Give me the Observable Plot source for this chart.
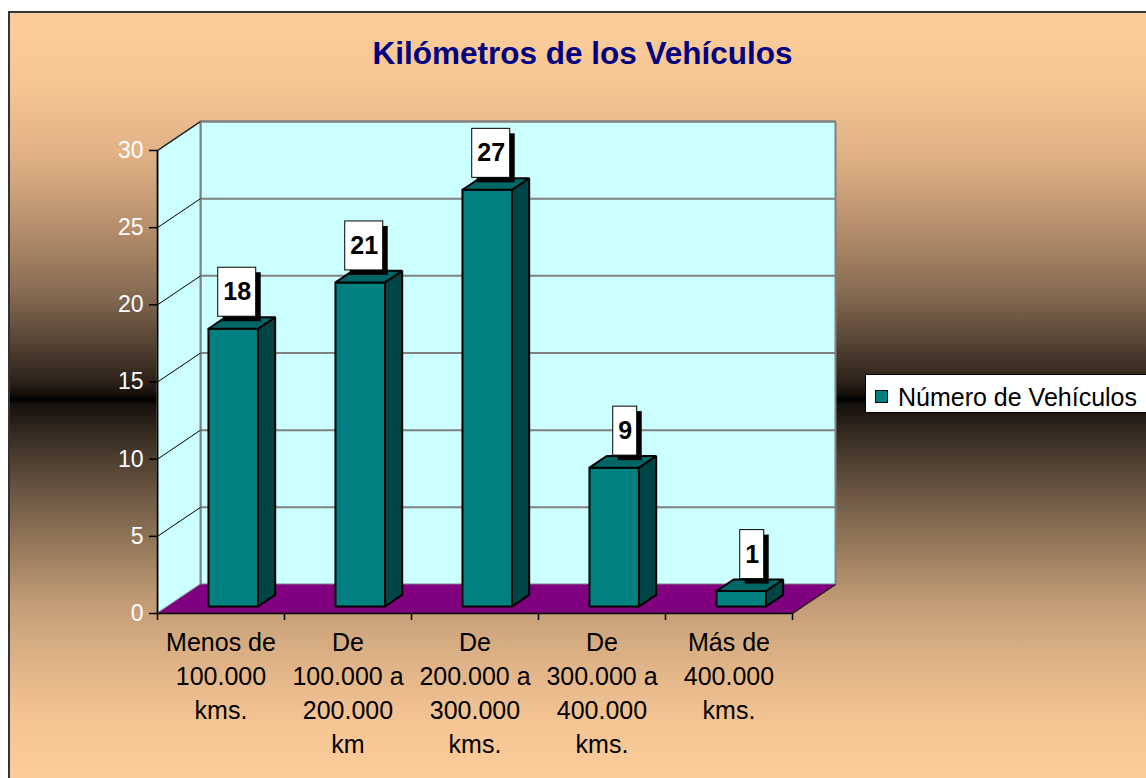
<!DOCTYPE html>
<html><head><meta charset="utf-8">
<script src="https://cdn.jsdelivr.net/npm/d3@7"></script>
<script src="https://cdn.jsdelivr.net/npm/@observablehq/plot@0.6"></script>
<style>
html,body{margin:0;padding:0;background:#fff;overflow:hidden;width:1146px;height:778px;}
#wrap{position:relative;width:1146px;height:778px;overflow:hidden;font-family:"Liberation Sans",Arial,sans-serif;}
#bg{position:absolute;left:8px;top:11px;width:1160px;height:790px;box-sizing:border-box;border-left:2px solid #333;border-top:2px solid #333;
background:linear-gradient(to bottom,#FCCC99 0px,#F6C694 69px,#DDAF83 149px,#B38C69 219px,#876C53 279px,#564434 329px,#2C2119 369px,#140f0b 381px,#000 386px,#16110d 392px,#3e3226 429px,#6a5642 479px,#937759 529px,#C29B75 589px,#DFB387 649px,#F4C493 709px,#FCCC99 767px,#FCCC99 790px);}
#chart{position:absolute;left:0;top:0;}
#title{position:absolute;left:0;width:1165px;top:38px;text-align:center;font-size:31.5px;line-height:31.5px;font-weight:bold;color:#000080;white-space:nowrap;}
#legend{position:absolute;left:865px;top:374px;width:300px;height:39px;background:#fff;border:1px solid #000;box-sizing:border-box;}
#legend .sw{position:absolute;left:9px;top:15px;width:11px;height:11px;background:#008080;border:1px solid #000;}
#legend .lt{position:absolute;left:32px;top:10px;font-size:25px;line-height:25px;color:#000;white-space:nowrap;}
</style></head>
<body>
<div id="wrap">
  <div id="bg"></div>
  <div id="chart"></div>
  <div id="title"></div>
  <div id="legend"><div class="sw"></div><div class="lt"></div></div>
</div>
<script>
// ---- data ----
const title = "Kilómetros de los Vehículos";
const seriesName = "Número de Vehículos";
const categories = [
  "Menos de\n100.000\nkms.",
  "De\n100.000 a\n200.000\nkm",
  "De\n200.000 a\n300.000\nkms.",
  "De\n300.000 a\n400.000\nkms.",
  "Más de\n400.000\nkms."
];
const values = [18, 21, 27, 9, 1];
const yTicks = [0, 5, 10, 15, 20, 25, 30];

document.getElementById("title").textContent = title;
document.querySelector("#legend .lt").textContent = seriesName;

// ---- layout ----
const W = 1146, H = 778;
const mL = 157, mR = 354, mT = 150, mB = 165;
const n = categories.length;
const yMax = yTicks[yTicks.length - 1];
const kx = (W - mL - mR) / n;        // px per band
const ky = (H - mT - mB) / yMax;     // px per unit
const DX = 43 / kx, DY = 29 / ky;    // depth of the 3D box in data units
const d0 = 0.24, d1 = 0.64;          // bar depth (fraction of floor depth)
const b0 = 0.32, b1 = 0.71;          // bar extent within band
const pt = (x, y, d, id) => ({x: x + d * DX, y: y + d * DY, id});
const poly = (id, pts) => [...pts, pts[0]].map(p => ({...p, id}));

const backWall = poly("back", [pt(0,0,1), pt(n,0,1), pt(n,yMax,1), pt(0,yMax,1)]);
const leftWall = poly("left", [pt(0,0,0), pt(0,0,1), pt(0,yMax,1), pt(0,yMax,0)]);
const floor = poly("floor", [pt(0,0,0), pt(n,0,0), pt(n,0,1), pt(0,0,1)]);
const gridVals = yTicks.filter(v => v > 0);
const backGrid = gridVals.map(v => ({a: pt(0,v,1), b: pt(n,v,1)}));
const sideGrid = gridVals.map(v => ({a: pt(0,v,0), b: pt(0,v,1)}));

const fronts = [], sides = [], tops = [];
values.forEach((v, i) => {
  const x0 = i + b0, x1 = i + b1;
  fronts.push(...poly("f" + i, [pt(x0,0,d0), pt(x1,0,d0), pt(x1,v,d0), pt(x0,v,d0)]));
  sides.push(...poly("s" + i, [pt(x1,0,d0), pt(x1,0,d1), pt(x1,v,d1), pt(x1,v,d0)]));
  tops.push(...poly("t" + i, [pt(x0,v,d0), pt(x1,v,d0), pt(x1,v,d1), pt(x0,v,d1)]));
});

const labels = values.map((v, i) => {
  const s = String(v);
  const w = s.length > 1 ? 38 : 24;
  const ax = i + (b0 + b1) / 2 + d0 * DX;
  const ay = v + d0 * DY;
  const xc = ax + (23 - w / 2) / kx;
  const y1 = ay + 12 / ky, y2 = y1 + 49 / ky;
  return {s, x1: xc - w / 2 / kx, x2: xc + w / 2 / kx, y1, y2, xc, yc: (y1 + y2) / 2};
});

const chart = Plot.plot({
  width: W, height: H,
  marginLeft: mL, marginRight: mR, marginTop: mT, marginBottom: mB,
  x: {domain: [0, n]},
  y: {domain: [0, yMax]},
  style: {background: "transparent", overflow: "visible", fontFamily: "'Liberation Sans', Arial, sans-serif"},
  marks: [
    Plot.line(backWall, {x: "x", y: "y", z: "id", fill: "#CCFFFF", stroke: "#808080", strokeWidth: 2}),
    Plot.line(leftWall, {x: "x", y: "y", z: "id", fill: "#CCFFFF", stroke: "#808080", strokeWidth: 2}),
    Plot.link(backGrid, {x1: d => d.a.x, y1: d => d.a.y, x2: d => d.b.x, y2: d => d.b.y, stroke: "#808080", strokeWidth: 2}),
    Plot.link(sideGrid, {x1: d => d.a.x, y1: d => d.a.y, x2: d => d.b.x, y2: d => d.b.y, stroke: "#000", strokeWidth: 1}),
    Plot.line(floor, {x: "x", y: "y", z: "id", fill: "#800080", stroke: "none"}),
    Plot.link([{a: pt(n,0,0), b: pt(n,0,1)}], {x1: d => d.a.x, y1: d => d.a.y, x2: d => d.b.x, y2: d => d.b.y, stroke: "#222", strokeWidth: 1.5}),
    Plot.line(fronts, {x: "x", y: "y", z: "id", fill: "#008080", stroke: "#000", strokeWidth: 2, strokeLinejoin: "miter"}),
    Plot.line(sides, {x: "x", y: "y", z: "id", fill: "#004545", stroke: "#000", strokeWidth: 2, strokeLinejoin: "miter"}),
    Plot.line(tops, {x: "x", y: "y", z: "id", fill: "#006666", stroke: "#000", strokeWidth: 2, strokeLinejoin: "miter"}),
    Plot.ruleX([0], {y1: 0, y2: yMax, stroke: "#000", strokeWidth: 1.5}),
    Plot.ruleY([0], {x1: 0, x2: n, stroke: "#000", strokeWidth: 1.5}),
    Plot.axisY({ticks: yTicks, tickSize: 8, tickPadding: 6, fontSize: 23, fill: "white", stroke: "#000", strokeWidth: 1.5, label: null}),
    Plot.axisX({ticks: d3.range(n + 1), tickSize: 7, tickFormat: () => "", stroke: "#000", strokeWidth: 1.5, label: null}),
    Plot.rect(labels, {x1: "x1", x2: "x2", y1: "y1", y2: "y2", fill: "#000", dx: 5, dy: 5}),
    Plot.rect(labels, {x1: "x1", x2: "x2", y1: "y1", y2: "y2", fill: "#fff", stroke: "#000", strokeWidth: 1}),
    Plot.text(labels, {x: "xc", y: "yc", text: "s", fontSize: 25, fontWeight: "bold", fill: "#000"}),
    Plot.text(categories, {x: (d, i) => i + 0.5, y: () => 0, text: d => d, dy: 13, lineAnchor: "top", lineHeight: 1.36, fontSize: 25, fill: "#000"})
  ]
});
document.getElementById("chart").appendChild(chart);
</script>
</body></html>
